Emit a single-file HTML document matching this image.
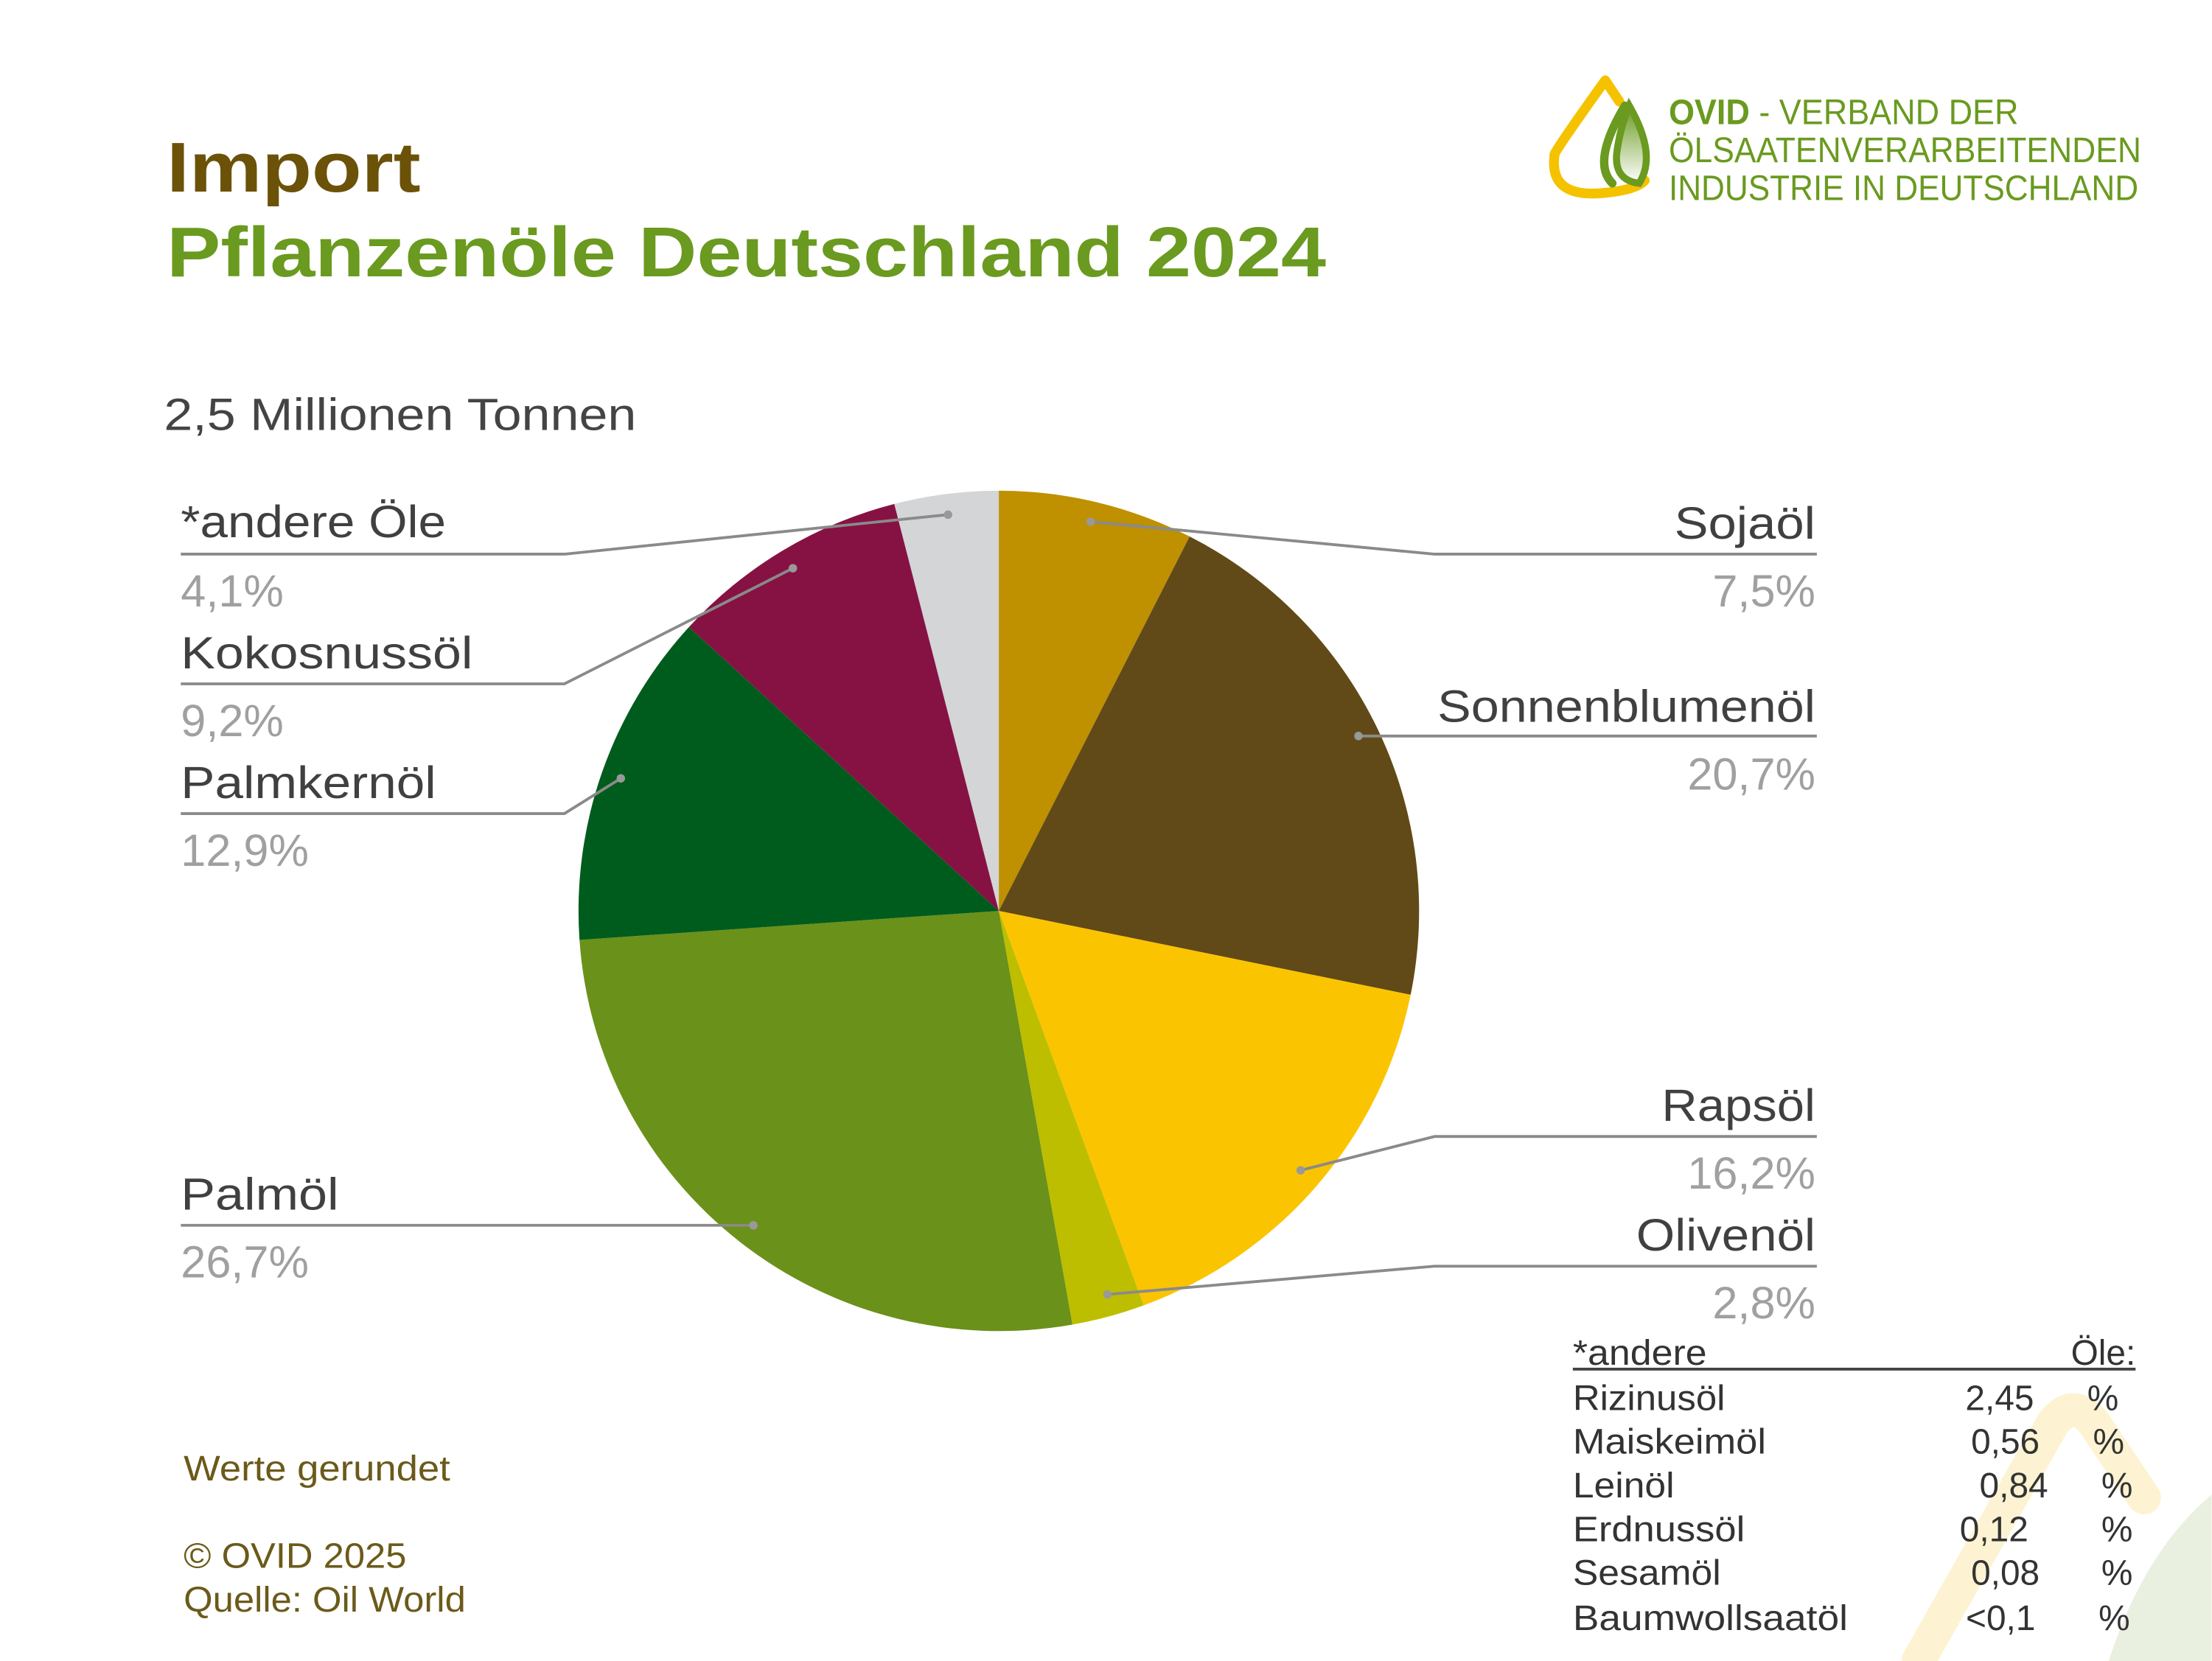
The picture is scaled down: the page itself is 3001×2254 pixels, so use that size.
<!DOCTYPE html>
<html><head><meta charset="utf-8"><style>
html,body{margin:0;padding:0;background:#fff;}
svg{display:block;}
text{font-family:"Liberation Sans",sans-serif;}
</style></head><body>
<svg width="3001" height="2254" viewBox="0 0 1568 1178" xmlns="http://www.w3.org/2000/svg">
<defs>
<linearGradient id="lg" x1="0" y1="0" x2="0" y2="1"><stop offset="0" stop-color="#6a9a1f"/><stop offset="1" stop-color="#ffffff"/></linearGradient>
</defs>
<rect width="1568" height="1178" fill="#fff"/>
<!-- background decorations -->
<path d="M1360,1178 L1455,1010 Q1470,990 1485,1010 L1520,1062" fill="none" stroke="#fdf3d2" stroke-width="24" stroke-linecap="round"/>
<path d="M1495,1178 Q1520,1100 1568,1060 L1568,1178 Z" fill="#eaf0e0"/>
<!-- logo -->
<path d="M1138,57 L1148,72 M1138,57 Q1100,110 1102,110 Q1098,140 1135,137 Q1160,135 1166,128" fill="none" stroke="#f5c200" stroke-width="7" stroke-linecap="round"/>
<path d="M1152,75 Q1128,115 1143,130" fill="none" stroke="#6a9a1f" stroke-width="6" stroke-linecap="round"/>
<path d="M1155,75 Q1175,110 1162,130 Q1145,128 1146,110 Q1148,92 1155,75 Z" fill="url(#lg)" stroke="#6a9a1f" stroke-width="5"/>
<text x="1183" y="88" font-size="25" fill="#6a9a1f" textLength="248" lengthAdjust="spacingAndGlyphs"><tspan font-weight="bold">OVID</tspan> - VERBAND DER</text>
<text x="1183" y="115" font-size="25" fill="#6a9a1f" textLength="335" lengthAdjust="spacingAndGlyphs">ÖLSAATENVERARBEITENDEN</text>
<text x="1183" y="142" font-size="25" fill="#6a9a1f" textLength="333" lengthAdjust="spacingAndGlyphs">INDUSTRIE IN DEUTSCHLAND</text>
<!-- titles -->
<text x="118" y="136" font-size="50" font-weight="bold" fill="#6b5208" textLength="180" lengthAdjust="spacingAndGlyphs">Import</text>
<text x="118" y="196" font-size="50" font-weight="bold" fill="#6a9a1f" textLength="822" lengthAdjust="spacingAndGlyphs">Pflanzenöle Deutschland 2024</text>
<text x="116" y="305" font-size="32" fill="#444" textLength="335" lengthAdjust="spacingAndGlyphs">2,5 Millionen Tonnen</text>
<!-- pie -->
<g stroke="none">
<path d="M708,646 L708,348 A298,298 0 0 1 843.3,380.5 Z" fill="#bf9000"/>
<path d="M708,646 L843.3,380.5 A298,298 0 0 1 1000,705.5 Z" fill="#614a17"/>
<path d="M708,646 L1000,705.5 A298,298 0 0 1 810.7,925.8 Z" fill="#fbc400"/>
<path d="M708,646 L810.7,925.8 A298,298 0 0 1 760.2,939.4 Z" fill="#bdbe00"/>
<path d="M708,646 L760.2,939.4 A298,298 0 0 1 410.7,666.6 Z" fill="#6a9119"/>
<path d="M708,646 L410.7,666.6 A298,298 0 0 1 488.3,444.7 Z" fill="#005c1d"/>
<path d="M708,646 L488.3,444.7 A298,298 0 0 1 633.9,357.4 Z" fill="#861243"/>
<path d="M708,646 L633.9,357.4 A298,298 0 0 1 708,348 Z" fill="#d3d5d7"/>
</g>
<!-- leader lines -->
<g stroke="#8a8a8a" stroke-width="2" fill="none">
<polyline points="773,370 1017,393 1288,393"/>
<polyline points="963,522 1288,522"/>
<polyline points="922,830 1017,806 1288,806"/>
<polyline points="785,918 1017,898 1288,898"/>
<polyline points="128,393 400,393 672,365"/>
<polyline points="128,485 400,485 562,403"/>
<polyline points="128,577 400,577 440,552"/>
<polyline points="128,869 534,869"/>
</g>
<g fill="#999">
<circle cx="773" cy="370" r="3"/><circle cx="963" cy="522" r="3"/><circle cx="922" cy="830" r="3"/><circle cx="785" cy="918" r="3"/>
<circle cx="672" cy="365" r="3"/><circle cx="562" cy="403" r="3"/><circle cx="440" cy="552" r="3"/><circle cx="534" cy="869" r="3"/>
</g>
<g font-size="32" fill="#404040" lengthAdjust="spacingAndGlyphs">
<text x="1287" y="382" text-anchor="end" textLength="100" lengthAdjust="spacingAndGlyphs">Sojaöl</text>
<text x="1287" y="512" text-anchor="end" textLength="268" lengthAdjust="spacingAndGlyphs">Sonnenblumenöl</text>
<text x="1287" y="795" text-anchor="end" textLength="109" lengthAdjust="spacingAndGlyphs">Rapsöl</text>
<text x="1287" y="887" text-anchor="end" textLength="127" lengthAdjust="spacingAndGlyphs">Olivenöl</text>
<text x="128" y="381" textLength="188" lengthAdjust="spacingAndGlyphs">*andere Öle</text>
<text x="128" y="474" textLength="207" lengthAdjust="spacingAndGlyphs">Kokosnussöl</text>
<text x="128" y="566" textLength="181" lengthAdjust="spacingAndGlyphs">Palmkernöl</text>
<text x="128" y="858" textLength="112" lengthAdjust="spacingAndGlyphs">Palmöl</text>
</g>
<g font-size="32" fill="#a0a0a0">
<text x="1287" y="430" text-anchor="end">7,5%</text>
<text x="1287" y="560" text-anchor="end">20,7%</text>
<text x="1287" y="843" text-anchor="end">16,2%</text>
<text x="1287" y="935" text-anchor="end">2,8%</text>
<text x="128" y="430">4,1%</text>
<text x="128" y="522">9,2%</text>
<text x="128" y="614">12,9%</text>
<text x="128" y="906">26,7%</text>
</g>
<!-- footer -->
<g font-size="25" fill="#6b5a1a">
<text x="130" y="1050" textLength="189" lengthAdjust="spacingAndGlyphs">Werte gerundet</text>
<text x="130" y="1112" textLength="158" lengthAdjust="spacingAndGlyphs">© OVID 2025</text>
<text x="130" y="1143" textLength="200" lengthAdjust="spacingAndGlyphs">Quelle: Oil World</text>
</g>
<!-- table -->
<g font-size="25" fill="#333">
<text x="1115" y="968" textLength="95" lengthAdjust="spacingAndGlyphs">*andere</text>
<text x="1514" y="968" text-anchor="end">Öle:</text>
<line x1="1115" y1="971" x2="1514" y2="971" stroke="#444" stroke-width="2"/>
<text x="1115" y="1000" textLength="108" lengthAdjust="spacingAndGlyphs">Rizinusöl</text><text x="1442" y="1000" text-anchor="end">2,45</text><text x="1502" y="1000" text-anchor="end">%</text>
<text x="1115" y="1031" textLength="137" lengthAdjust="spacingAndGlyphs">Maiskeimöl</text><text x="1446" y="1031" text-anchor="end">0,56</text><text x="1506" y="1031" text-anchor="end">%</text>
<text x="1115" y="1062" textLength="72" lengthAdjust="spacingAndGlyphs">Leinöl</text><text x="1452" y="1062" text-anchor="end">0,84</text><text x="1512" y="1062" text-anchor="end">%</text>
<text x="1115" y="1093" textLength="122" lengthAdjust="spacingAndGlyphs">Erdnussöl</text><text x="1438" y="1093" text-anchor="end">0,12</text><text x="1512" y="1093" text-anchor="end">%</text>
<text x="1115" y="1124" textLength="105" lengthAdjust="spacingAndGlyphs">Sesamöl</text><text x="1446" y="1124" text-anchor="end">0,08</text><text x="1512" y="1124" text-anchor="end">%</text>
<text x="1115" y="1156" textLength="195" lengthAdjust="spacingAndGlyphs">Baumwollsaatöl</text><text x="1443" y="1156" text-anchor="end">&lt;0,1</text><text x="1510" y="1156" text-anchor="end">%</text>
</g>
</svg>
</body></html>
